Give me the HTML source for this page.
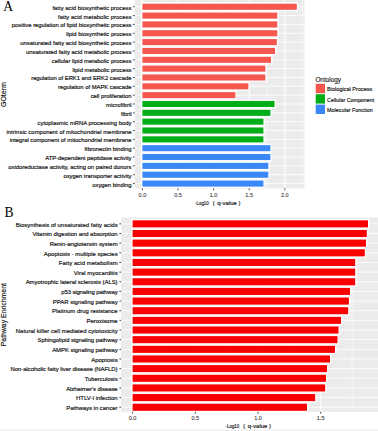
<!DOCTYPE html>
<html><head><meta charset="utf-8"><style>
html,body{margin:0;padding:0;background:#fff;}
svg{display:block;font-family:"Liberation Sans",sans-serif;}
</style></head><body>
<svg width="378" height="431" viewBox="0 0 378 431">
<rect x="134.7" y="0.0" width="169.90" height="188.40" fill="#EBEBEB"/>
<line x1="160.20" x2="160.20" y1="0.0" y2="188.4" stroke="#fff" stroke-width="0.5"/>
<line x1="195.80" x2="195.80" y1="0.0" y2="188.4" stroke="#fff" stroke-width="0.5"/>
<line x1="231.40" x2="231.40" y1="0.0" y2="188.4" stroke="#fff" stroke-width="0.5"/>
<line x1="267.00" x2="267.00" y1="0.0" y2="188.4" stroke="#fff" stroke-width="0.5"/>
<line x1="302.60" x2="302.60" y1="0.0" y2="188.4" stroke="#fff" stroke-width="0.5"/>
<line x1="142.40" x2="142.40" y1="0.0" y2="188.4" stroke="#fff" stroke-width="1"/>
<line x1="178.00" x2="178.00" y1="0.0" y2="188.4" stroke="#fff" stroke-width="1"/>
<line x1="213.60" x2="213.60" y1="0.0" y2="188.4" stroke="#fff" stroke-width="1"/>
<line x1="249.20" x2="249.20" y1="0.0" y2="188.4" stroke="#fff" stroke-width="1"/>
<line x1="284.80" x2="284.80" y1="0.0" y2="188.4" stroke="#fff" stroke-width="1"/>
<line x1="134.7" x2="304.6" y1="6.75" y2="6.75" stroke="#fff" stroke-width="0.8"/>
<line x1="134.7" x2="304.6" y1="15.59" y2="15.59" stroke="#fff" stroke-width="0.8"/>
<line x1="134.7" x2="304.6" y1="24.43" y2="24.43" stroke="#fff" stroke-width="0.8"/>
<line x1="134.7" x2="304.6" y1="33.27" y2="33.27" stroke="#fff" stroke-width="0.8"/>
<line x1="134.7" x2="304.6" y1="42.11" y2="42.11" stroke="#fff" stroke-width="0.8"/>
<line x1="134.7" x2="304.6" y1="50.95" y2="50.95" stroke="#fff" stroke-width="0.8"/>
<line x1="134.7" x2="304.6" y1="59.79" y2="59.79" stroke="#fff" stroke-width="0.8"/>
<line x1="134.7" x2="304.6" y1="68.63" y2="68.63" stroke="#fff" stroke-width="0.8"/>
<line x1="134.7" x2="304.6" y1="77.47" y2="77.47" stroke="#fff" stroke-width="0.8"/>
<line x1="134.7" x2="304.6" y1="86.31" y2="86.31" stroke="#fff" stroke-width="0.8"/>
<line x1="134.7" x2="304.6" y1="95.15" y2="95.15" stroke="#fff" stroke-width="0.8"/>
<line x1="134.7" x2="304.6" y1="103.99" y2="103.99" stroke="#fff" stroke-width="0.8"/>
<line x1="134.7" x2="304.6" y1="112.83" y2="112.83" stroke="#fff" stroke-width="0.8"/>
<line x1="134.7" x2="304.6" y1="121.67" y2="121.67" stroke="#fff" stroke-width="0.8"/>
<line x1="134.7" x2="304.6" y1="130.51" y2="130.51" stroke="#fff" stroke-width="0.8"/>
<line x1="134.7" x2="304.6" y1="139.35" y2="139.35" stroke="#fff" stroke-width="0.8"/>
<line x1="134.7" x2="304.6" y1="148.19" y2="148.19" stroke="#fff" stroke-width="0.8"/>
<line x1="134.7" x2="304.6" y1="157.03" y2="157.03" stroke="#fff" stroke-width="0.8"/>
<line x1="134.7" x2="304.6" y1="165.87" y2="165.87" stroke="#fff" stroke-width="0.8"/>
<line x1="134.7" x2="304.6" y1="174.71" y2="174.71" stroke="#fff" stroke-width="0.8"/>
<line x1="134.7" x2="304.6" y1="183.55" y2="183.55" stroke="#fff" stroke-width="0.8"/>
<rect x="141.70" y="3.00" width="155.80" height="7.50" fill="#F5574F" stroke="#fff" stroke-width="1.4"/>
<rect x="141.70" y="11.84" width="136.30" height="7.50" fill="#F5574F" stroke="#fff" stroke-width="1.4"/>
<rect x="141.70" y="20.68" width="136.30" height="7.50" fill="#F5574F" stroke="#fff" stroke-width="1.4"/>
<rect x="141.70" y="29.52" width="136.30" height="7.50" fill="#F5574F" stroke="#fff" stroke-width="1.4"/>
<rect x="141.70" y="38.36" width="135.80" height="7.50" fill="#F5574F" stroke="#fff" stroke-width="1.4"/>
<rect x="141.70" y="47.20" width="134.00" height="7.50" fill="#F5574F" stroke="#fff" stroke-width="1.4"/>
<rect x="141.70" y="56.04" width="130.00" height="7.50" fill="#F5574F" stroke="#fff" stroke-width="1.4"/>
<rect x="141.70" y="64.88" width="124.30" height="7.50" fill="#F5574F" stroke="#fff" stroke-width="1.4"/>
<rect x="141.70" y="73.72" width="124.30" height="7.50" fill="#F5574F" stroke="#fff" stroke-width="1.4"/>
<rect x="141.70" y="82.56" width="107.40" height="7.50" fill="#F5574F" stroke="#fff" stroke-width="1.4"/>
<rect x="141.70" y="91.40" width="94.40" height="7.50" fill="#F5574F" stroke="#fff" stroke-width="1.4"/>
<rect x="141.70" y="100.24" width="133.60" height="7.50" fill="#02AE18" stroke="#fff" stroke-width="1.4"/>
<rect x="141.70" y="109.08" width="129.40" height="7.50" fill="#02AE18" stroke="#fff" stroke-width="1.4"/>
<rect x="141.70" y="117.92" width="122.40" height="7.50" fill="#02AE18" stroke="#fff" stroke-width="1.4"/>
<rect x="141.70" y="126.76" width="122.40" height="7.50" fill="#02AE18" stroke="#fff" stroke-width="1.4"/>
<rect x="141.70" y="135.60" width="122.40" height="7.50" fill="#02AE18" stroke="#fff" stroke-width="1.4"/>
<rect x="141.70" y="144.44" width="129.40" height="7.50" fill="#3A88F8" stroke="#fff" stroke-width="1.4"/>
<rect x="141.70" y="153.28" width="129.40" height="7.50" fill="#3A88F8" stroke="#fff" stroke-width="1.4"/>
<rect x="141.70" y="162.12" width="127.30" height="7.50" fill="#3A88F8" stroke="#fff" stroke-width="1.4"/>
<rect x="141.70" y="170.96" width="127.30" height="7.50" fill="#3A88F8" stroke="#fff" stroke-width="1.4"/>
<rect x="141.70" y="179.80" width="122.40" height="7.50" fill="#3A88F8" stroke="#fff" stroke-width="1.4"/>
<line x1="133.00" x2="134.70" y1="6.75" y2="6.75" stroke="#333" stroke-width="0.9"/>
<text transform="translate(131.5,9.75) scale(1,1.0)" font-size="5.9" text-anchor="end" fill="#111" stroke="#111" stroke-width="0.17" textLength="79.12" lengthAdjust="spacing">fatty acid biosynthetic process</text>
<line x1="133.00" x2="134.70" y1="15.59" y2="15.59" stroke="#333" stroke-width="0.9"/>
<text transform="translate(131.5,18.59) scale(1,1.0)" font-size="5.9" text-anchor="end" fill="#111" stroke="#111" stroke-width="0.17" textLength="73.47" lengthAdjust="spacing">fatty acid metabolic process</text>
<line x1="133.00" x2="134.70" y1="24.43" y2="24.43" stroke="#333" stroke-width="0.9"/>
<text transform="translate(131.5,27.43) scale(1,1.0)" font-size="5.9" text-anchor="end" fill="#111" stroke="#111" stroke-width="0.17" textLength="119.71" lengthAdjust="spacing">positive regulation of lipid biosynthetic process</text>
<line x1="133.00" x2="134.70" y1="33.27" y2="33.27" stroke="#333" stroke-width="0.9"/>
<text transform="translate(131.5,36.27) scale(1,1.0)" font-size="5.9" text-anchor="end" fill="#111" stroke="#111" stroke-width="0.17" textLength="65.31" lengthAdjust="spacing">lipid biosynthetic process</text>
<line x1="133.00" x2="134.70" y1="42.11" y2="42.11" stroke="#333" stroke-width="0.9"/>
<text transform="translate(131.5,45.11) scale(1,1.0)" font-size="5.9" text-anchor="end" fill="#111" stroke="#111" stroke-width="0.17" textLength="111.21" lengthAdjust="spacing">unsaturated fatty acid biosynthetic process</text>
<line x1="133.00" x2="134.70" y1="50.95" y2="50.95" stroke="#333" stroke-width="0.9"/>
<text transform="translate(131.5,53.95) scale(1,1.0)" font-size="5.9" text-anchor="end" fill="#111" stroke="#111" stroke-width="0.17" textLength="105.58" lengthAdjust="spacing">unsaturated fatty acid metabolic process</text>
<line x1="133.00" x2="134.70" y1="59.79" y2="59.79" stroke="#333" stroke-width="0.9"/>
<text transform="translate(131.5,62.79) scale(1,1.0)" font-size="5.9" text-anchor="end" fill="#111" stroke="#111" stroke-width="0.17" textLength="79.82" lengthAdjust="spacing">cellular lipid metabolic process</text>
<line x1="133.00" x2="134.70" y1="68.63" y2="68.63" stroke="#333" stroke-width="0.9"/>
<text transform="translate(131.5,71.63) scale(1,1.0)" font-size="5.9" text-anchor="end" fill="#111" stroke="#111" stroke-width="0.17" textLength="58.95" lengthAdjust="spacing">lipid metabolic process</text>
<line x1="133.00" x2="134.70" y1="77.47" y2="77.47" stroke="#333" stroke-width="0.9"/>
<text transform="translate(131.5,80.47) scale(1,1.0)" font-size="5.9" text-anchor="end" fill="#111" stroke="#111" stroke-width="0.17" textLength="100.31" lengthAdjust="spacing">regulation of ERK1 and ERK2 cascade</text>
<line x1="133.00" x2="134.70" y1="86.31" y2="86.31" stroke="#333" stroke-width="0.9"/>
<text transform="translate(131.5,89.31) scale(1,1.0)" font-size="5.9" text-anchor="end" fill="#111" stroke="#111" stroke-width="0.17" textLength="73.41" lengthAdjust="spacing">regulation of MAPK cascade</text>
<line x1="133.00" x2="134.70" y1="95.15" y2="95.15" stroke="#333" stroke-width="0.9"/>
<text transform="translate(131.5,98.15) scale(1,1.0)" font-size="5.9" text-anchor="end" fill="#111" stroke="#111" stroke-width="0.17" textLength="40.87" lengthAdjust="spacing">cell proliferation</text>
<line x1="133.00" x2="134.70" y1="103.99" y2="103.99" stroke="#333" stroke-width="0.9"/>
<text transform="translate(131.5,106.99) scale(1,1.0)" font-size="5.9" text-anchor="end" fill="#111" stroke="#111" stroke-width="0.17" textLength="25.41" lengthAdjust="spacing">microfibril</text>
<line x1="133.00" x2="134.70" y1="112.83" y2="112.83" stroke="#333" stroke-width="0.9"/>
<text transform="translate(131.5,115.83) scale(1,1.0)" font-size="5.9" text-anchor="end" fill="#111" stroke="#111" stroke-width="0.17" textLength="10.58" lengthAdjust="spacing">fibril</text>
<line x1="133.00" x2="134.70" y1="121.67" y2="121.67" stroke="#333" stroke-width="0.9"/>
<text transform="translate(131.5,124.67) scale(1,1.0)" font-size="5.9" text-anchor="end" fill="#111" stroke="#111" stroke-width="0.17" textLength="94.02" lengthAdjust="spacing">cytoplasmic mRNA processing body</text>
<line x1="133.00" x2="134.70" y1="130.51" y2="130.51" stroke="#333" stroke-width="0.9"/>
<text transform="translate(131.5,133.51) scale(1,1.0)" font-size="5.9" text-anchor="end" fill="#111" stroke="#111" stroke-width="0.17" textLength="125.05" lengthAdjust="spacing">intrinsic component of mitochondrial membrane</text>
<line x1="133.00" x2="134.70" y1="139.35" y2="139.35" stroke="#333" stroke-width="0.9"/>
<text transform="translate(131.5,142.35) scale(1,1.0)" font-size="5.9" text-anchor="end" fill="#111" stroke="#111" stroke-width="0.17" textLength="121.88" lengthAdjust="spacing">integral component of mitochondrial membrane</text>
<line x1="133.00" x2="134.70" y1="148.19" y2="148.19" stroke="#333" stroke-width="0.9"/>
<text transform="translate(131.5,151.19) scale(1,1.0)" font-size="5.9" text-anchor="end" fill="#111" stroke="#111" stroke-width="0.17" textLength="46.99" lengthAdjust="spacing">fibronectin binding</text>
<line x1="133.00" x2="134.70" y1="157.03" y2="157.03" stroke="#333" stroke-width="0.9"/>
<text transform="translate(131.5,160.03) scale(1,1.0)" font-size="5.9" text-anchor="end" fill="#111" stroke="#111" stroke-width="0.17" textLength="86.34" lengthAdjust="spacing">ATP-dependent peptidase activity</text>
<line x1="133.00" x2="134.70" y1="165.87" y2="165.87" stroke="#333" stroke-width="0.9"/>
<text transform="translate(131.5,168.87) scale(1,1.0)" font-size="5.9" text-anchor="end" fill="#111" stroke="#111" stroke-width="0.17" textLength="123.18" lengthAdjust="spacing">oxidoreductase activity, acting on paired donors</text>
<line x1="133.00" x2="134.70" y1="174.71" y2="174.71" stroke="#333" stroke-width="0.9"/>
<text transform="translate(131.5,177.71) scale(1,1.0)" font-size="5.9" text-anchor="end" fill="#111" stroke="#111" stroke-width="0.17" textLength="68.10" lengthAdjust="spacing">oxygen transporter activity</text>
<line x1="133.00" x2="134.70" y1="183.55" y2="183.55" stroke="#333" stroke-width="0.9"/>
<text transform="translate(131.5,186.55) scale(1,1.0)" font-size="5.9" text-anchor="end" fill="#111" stroke="#111" stroke-width="0.17" textLength="39.25" lengthAdjust="spacing">oxygen binding</text>
<line x1="142.40" x2="142.40" y1="188.4" y2="190.20" stroke="#333" stroke-width="0.9"/>
<text x="142.40" y="194.90" font-size="5.5" text-anchor="middle" dominant-baseline="central" fill="#444" stroke="#444" stroke-width="0.12">0.0</text>
<line x1="178.00" x2="178.00" y1="188.4" y2="190.20" stroke="#333" stroke-width="0.9"/>
<text x="178.00" y="194.90" font-size="5.5" text-anchor="middle" dominant-baseline="central" fill="#444" stroke="#444" stroke-width="0.12">0.5</text>
<line x1="213.60" x2="213.60" y1="188.4" y2="190.20" stroke="#333" stroke-width="0.9"/>
<text x="213.60" y="194.90" font-size="5.5" text-anchor="middle" dominant-baseline="central" fill="#444" stroke="#444" stroke-width="0.12">1.0</text>
<line x1="249.20" x2="249.20" y1="188.4" y2="190.20" stroke="#333" stroke-width="0.9"/>
<text x="249.20" y="194.90" font-size="5.5" text-anchor="middle" dominant-baseline="central" fill="#444" stroke="#444" stroke-width="0.12">1.5</text>
<line x1="284.80" x2="284.80" y1="188.4" y2="190.20" stroke="#333" stroke-width="0.9"/>
<text x="284.80" y="194.90" font-size="5.5" text-anchor="middle" dominant-baseline="central" fill="#444" stroke="#444" stroke-width="0.12">2.0</text>
<rect x="121.1" y="217.4" width="258.90" height="194.40" fill="#EBEBEB"/>
<line x1="163.95" x2="163.95" y1="217.4" y2="411.8" stroke="#fff" stroke-width="0.5"/>
<line x1="226.65" x2="226.65" y1="217.4" y2="411.8" stroke="#fff" stroke-width="0.5"/>
<line x1="289.35" x2="289.35" y1="217.4" y2="411.8" stroke="#fff" stroke-width="0.5"/>
<line x1="352.05" x2="352.05" y1="217.4" y2="411.8" stroke="#fff" stroke-width="0.5"/>
<line x1="132.60" x2="132.60" y1="217.4" y2="411.8" stroke="#fff" stroke-width="1"/>
<line x1="195.30" x2="195.30" y1="217.4" y2="411.8" stroke="#fff" stroke-width="1"/>
<line x1="258.00" x2="258.00" y1="217.4" y2="411.8" stroke="#fff" stroke-width="1"/>
<line x1="320.70" x2="320.70" y1="217.4" y2="411.8" stroke="#fff" stroke-width="1"/>
<line x1="121.1" x2="380" y1="223.85" y2="223.85" stroke="#fff" stroke-width="0.8"/>
<line x1="121.1" x2="380" y1="233.50" y2="233.50" stroke="#fff" stroke-width="0.8"/>
<line x1="121.1" x2="380" y1="243.15" y2="243.15" stroke="#fff" stroke-width="0.8"/>
<line x1="121.1" x2="380" y1="252.81" y2="252.81" stroke="#fff" stroke-width="0.8"/>
<line x1="121.1" x2="380" y1="262.46" y2="262.46" stroke="#fff" stroke-width="0.8"/>
<line x1="121.1" x2="380" y1="272.11" y2="272.11" stroke="#fff" stroke-width="0.8"/>
<line x1="121.1" x2="380" y1="281.76" y2="281.76" stroke="#fff" stroke-width="0.8"/>
<line x1="121.1" x2="380" y1="291.41" y2="291.41" stroke="#fff" stroke-width="0.8"/>
<line x1="121.1" x2="380" y1="301.07" y2="301.07" stroke="#fff" stroke-width="0.8"/>
<line x1="121.1" x2="380" y1="310.72" y2="310.72" stroke="#fff" stroke-width="0.8"/>
<line x1="121.1" x2="380" y1="320.37" y2="320.37" stroke="#fff" stroke-width="0.8"/>
<line x1="121.1" x2="380" y1="330.02" y2="330.02" stroke="#fff" stroke-width="0.8"/>
<line x1="121.1" x2="380" y1="339.67" y2="339.67" stroke="#fff" stroke-width="0.8"/>
<line x1="121.1" x2="380" y1="349.33" y2="349.33" stroke="#fff" stroke-width="0.8"/>
<line x1="121.1" x2="380" y1="358.98" y2="358.98" stroke="#fff" stroke-width="0.8"/>
<line x1="121.1" x2="380" y1="368.63" y2="368.63" stroke="#fff" stroke-width="0.8"/>
<line x1="121.1" x2="380" y1="378.28" y2="378.28" stroke="#fff" stroke-width="0.8"/>
<line x1="121.1" x2="380" y1="387.93" y2="387.93" stroke="#fff" stroke-width="0.8"/>
<line x1="121.1" x2="380" y1="397.59" y2="397.59" stroke="#fff" stroke-width="0.8"/>
<line x1="121.1" x2="380" y1="407.24" y2="407.24" stroke="#fff" stroke-width="0.8"/>
<rect x="131.95" y="219.65" width="236.70" height="8.40" fill="#FA0000" stroke="#fff" stroke-width="1.3"/>
<rect x="131.95" y="229.30" width="235.50" height="8.40" fill="#FA0000" stroke="#fff" stroke-width="1.3"/>
<rect x="131.95" y="238.95" width="234.70" height="8.40" fill="#FA0000" stroke="#fff" stroke-width="1.3"/>
<rect x="131.95" y="248.61" width="233.50" height="8.40" fill="#FA0000" stroke="#fff" stroke-width="1.3"/>
<rect x="131.95" y="258.26" width="223.90" height="8.40" fill="#FA0000" stroke="#fff" stroke-width="1.3"/>
<rect x="131.95" y="267.91" width="223.90" height="8.40" fill="#FA0000" stroke="#fff" stroke-width="1.3"/>
<rect x="131.95" y="277.56" width="223.90" height="8.40" fill="#FA0000" stroke="#fff" stroke-width="1.3"/>
<rect x="131.95" y="287.21" width="218.70" height="8.40" fill="#FA0000" stroke="#fff" stroke-width="1.3"/>
<rect x="131.95" y="296.87" width="217.60" height="8.40" fill="#FA0000" stroke="#fff" stroke-width="1.3"/>
<rect x="131.95" y="306.52" width="216.90" height="8.40" fill="#FA0000" stroke="#fff" stroke-width="1.3"/>
<rect x="131.95" y="316.17" width="209.70" height="8.40" fill="#FA0000" stroke="#fff" stroke-width="1.3"/>
<rect x="131.95" y="325.82" width="207.20" height="8.40" fill="#FA0000" stroke="#fff" stroke-width="1.3"/>
<rect x="131.95" y="335.47" width="206.20" height="8.40" fill="#FA0000" stroke="#fff" stroke-width="1.3"/>
<rect x="131.95" y="345.13" width="203.70" height="8.40" fill="#FA0000" stroke="#fff" stroke-width="1.3"/>
<rect x="131.95" y="354.78" width="198.70" height="8.40" fill="#FA0000" stroke="#fff" stroke-width="1.3"/>
<rect x="131.95" y="364.43" width="195.70" height="8.40" fill="#FA0000" stroke="#fff" stroke-width="1.3"/>
<rect x="131.95" y="374.08" width="194.70" height="8.40" fill="#FA0000" stroke="#fff" stroke-width="1.3"/>
<rect x="131.95" y="383.73" width="193.90" height="8.40" fill="#FA0000" stroke="#fff" stroke-width="1.3"/>
<rect x="131.95" y="393.39" width="183.90" height="8.40" fill="#FA0000" stroke="#fff" stroke-width="1.3"/>
<rect x="131.95" y="403.04" width="175.70" height="8.40" fill="#FA0000" stroke="#fff" stroke-width="1.3"/>
<line x1="119.40" x2="121.10" y1="223.85" y2="223.85" stroke="#333" stroke-width="0.9"/>
<text transform="translate(117.6,226.55) scale(1,1.0)" font-size="5.95" text-anchor="end" fill="#111" stroke="#111" stroke-width="0.17" textLength="101.89" lengthAdjust="spacing">Biosynthesis of unsaturated fatty acids</text>
<line x1="119.40" x2="121.10" y1="233.50" y2="233.50" stroke="#333" stroke-width="0.9"/>
<text transform="translate(117.6,236.20) scale(1,1.0)" font-size="5.95" text-anchor="end" fill="#111" stroke="#111" stroke-width="0.17" textLength="85.23" lengthAdjust="spacing">Vitamin digestion and absorption</text>
<line x1="119.40" x2="121.10" y1="243.15" y2="243.15" stroke="#333" stroke-width="0.9"/>
<text transform="translate(117.6,245.85) scale(1,1.0)" font-size="5.95" text-anchor="end" fill="#111" stroke="#111" stroke-width="0.17" textLength="67.83" lengthAdjust="spacing">Renin-angiotensin system</text>
<line x1="119.40" x2="121.10" y1="252.81" y2="252.81" stroke="#333" stroke-width="0.9"/>
<text transform="translate(117.6,255.51) scale(1,1.0)" font-size="5.95" text-anchor="end" fill="#111" stroke="#111" stroke-width="0.17" textLength="73.77" lengthAdjust="spacing">Apoptosis - multiple species</text>
<line x1="119.40" x2="121.10" y1="262.46" y2="262.46" stroke="#333" stroke-width="0.9"/>
<text transform="translate(117.6,265.16) scale(1,1.0)" font-size="5.95" text-anchor="end" fill="#111" stroke="#111" stroke-width="0.17" textLength="58.87" lengthAdjust="spacing">Fatty acid metabolism</text>
<line x1="119.40" x2="121.10" y1="272.11" y2="272.11" stroke="#333" stroke-width="0.9"/>
<text transform="translate(117.6,274.81) scale(1,1.0)" font-size="5.95" text-anchor="end" fill="#111" stroke="#111" stroke-width="0.17" textLength="43.91" lengthAdjust="spacing">Viral myocarditis</text>
<line x1="119.40" x2="121.10" y1="281.76" y2="281.76" stroke="#333" stroke-width="0.9"/>
<text transform="translate(117.6,284.46) scale(1,1.0)" font-size="5.95" text-anchor="end" fill="#111" stroke="#111" stroke-width="0.17" textLength="91.97" lengthAdjust="spacing">Amyotrophic lateral sclerosis (ALS)</text>
<line x1="119.40" x2="121.10" y1="291.41" y2="291.41" stroke="#333" stroke-width="0.9"/>
<text transform="translate(117.6,294.11) scale(1,1.0)" font-size="5.95" text-anchor="end" fill="#111" stroke="#111" stroke-width="0.17" textLength="56.27" lengthAdjust="spacing">p53 signaling pathway</text>
<line x1="119.40" x2="121.10" y1="301.07" y2="301.07" stroke="#333" stroke-width="0.9"/>
<text transform="translate(117.6,303.77) scale(1,1.0)" font-size="5.95" text-anchor="end" fill="#111" stroke="#111" stroke-width="0.17" textLength="64.76" lengthAdjust="spacing">PPAR signaling pathway</text>
<line x1="119.40" x2="121.10" y1="310.72" y2="310.72" stroke="#333" stroke-width="0.9"/>
<text transform="translate(117.6,313.42) scale(1,1.0)" font-size="5.95" text-anchor="end" fill="#111" stroke="#111" stroke-width="0.17" textLength="65.54" lengthAdjust="spacing">Platinum drug resistance</text>
<line x1="119.40" x2="121.10" y1="320.37" y2="320.37" stroke="#333" stroke-width="0.9"/>
<text transform="translate(117.6,323.07) scale(1,1.0)" font-size="5.95" text-anchor="end" fill="#111" stroke="#111" stroke-width="0.17" textLength="31.07" lengthAdjust="spacing">Peroxisome</text>
<line x1="119.40" x2="121.10" y1="330.02" y2="330.02" stroke="#333" stroke-width="0.9"/>
<text transform="translate(117.6,332.72) scale(1,1.0)" font-size="5.95" text-anchor="end" fill="#111" stroke="#111" stroke-width="0.17" textLength="101.88" lengthAdjust="spacing">Natural killer cell mediated cytotoxicity</text>
<line x1="119.40" x2="121.10" y1="339.67" y2="339.67" stroke="#333" stroke-width="0.9"/>
<text transform="translate(117.6,342.37) scale(1,1.0)" font-size="5.95" text-anchor="end" fill="#111" stroke="#111" stroke-width="0.17" textLength="80.04" lengthAdjust="spacing">Sphingolipid signaling pathway</text>
<line x1="119.40" x2="121.10" y1="349.33" y2="349.33" stroke="#333" stroke-width="0.9"/>
<text transform="translate(117.6,352.03) scale(1,1.0)" font-size="5.95" text-anchor="end" fill="#111" stroke="#111" stroke-width="0.17" textLength="65.47" lengthAdjust="spacing">AMPK signaling pathway</text>
<line x1="119.40" x2="121.10" y1="358.98" y2="358.98" stroke="#333" stroke-width="0.9"/>
<text transform="translate(117.6,361.68) scale(1,1.0)" font-size="5.95" text-anchor="end" fill="#111" stroke="#111" stroke-width="0.17" textLength="26.46" lengthAdjust="spacing">Apoptosis</text>
<line x1="119.40" x2="121.10" y1="368.63" y2="368.63" stroke="#333" stroke-width="0.9"/>
<text transform="translate(117.6,371.33) scale(1,1.0)" font-size="5.95" text-anchor="end" fill="#111" stroke="#111" stroke-width="0.17" textLength="107.20" lengthAdjust="spacing">Non-alcoholic fatty liver disease (NAFLD)</text>
<line x1="119.40" x2="121.10" y1="378.28" y2="378.28" stroke="#333" stroke-width="0.9"/>
<text transform="translate(117.6,380.98) scale(1,1.0)" font-size="5.95" text-anchor="end" fill="#111" stroke="#111" stroke-width="0.17" textLength="32.88" lengthAdjust="spacing">Tuberculosis</text>
<line x1="119.40" x2="121.10" y1="387.93" y2="387.93" stroke="#333" stroke-width="0.9"/>
<text transform="translate(117.6,390.63) scale(1,1.0)" font-size="5.95" text-anchor="end" fill="#111" stroke="#111" stroke-width="0.17" textLength="51.47" lengthAdjust="spacing">Alzheimer's disease</text>
<line x1="119.40" x2="121.10" y1="397.59" y2="397.59" stroke="#333" stroke-width="0.9"/>
<text transform="translate(117.6,400.29) scale(1,1.0)" font-size="5.95" text-anchor="end" fill="#111" stroke="#111" stroke-width="0.17" textLength="41.53" lengthAdjust="spacing">HTLV-I infection</text>
<line x1="119.40" x2="121.10" y1="407.24" y2="407.24" stroke="#333" stroke-width="0.9"/>
<text transform="translate(117.6,409.94) scale(1,1.0)" font-size="5.95" text-anchor="end" fill="#111" stroke="#111" stroke-width="0.17" textLength="51.32" lengthAdjust="spacing">Pathways in cancer</text>
<line x1="132.60" x2="132.60" y1="411.8" y2="413.60" stroke="#333" stroke-width="0.9"/>
<text x="132.60" y="418.30" font-size="5.5" text-anchor="middle" dominant-baseline="central" fill="#444" stroke="#444" stroke-width="0.12">0.0</text>
<line x1="195.30" x2="195.30" y1="411.8" y2="413.60" stroke="#333" stroke-width="0.9"/>
<text x="195.30" y="418.30" font-size="5.5" text-anchor="middle" dominant-baseline="central" fill="#444" stroke="#444" stroke-width="0.12">0.5</text>
<line x1="258.00" x2="258.00" y1="411.8" y2="413.60" stroke="#333" stroke-width="0.9"/>
<text x="258.00" y="418.30" font-size="5.5" text-anchor="middle" dominant-baseline="central" fill="#444" stroke="#444" stroke-width="0.12">1.0</text>
<line x1="320.70" x2="320.70" y1="411.8" y2="413.60" stroke="#333" stroke-width="0.9"/>
<text x="320.70" y="418.30" font-size="5.5" text-anchor="middle" dominant-baseline="central" fill="#444" stroke="#444" stroke-width="0.12">1.5</text>
<text y="205.0" font-size="5.7" fill="#111" stroke="#111" stroke-width="0.15"><tspan x="195.10" textLength="13.6" lengthAdjust="spacingAndGlyphs">-Log10</tspan><tspan x="212.70">(</tspan><tspan x="217.30" textLength="19.6" lengthAdjust="spacingAndGlyphs">q-value</tspan><tspan x="238.50">)</tspan></text>
<text y="428.3" font-size="5.7" fill="#111" stroke="#111" stroke-width="0.15"><tspan x="225.60" textLength="13.6" lengthAdjust="spacingAndGlyphs">-Log10</tspan><tspan x="243.20">(</tspan><tspan x="247.80" textLength="19.6" lengthAdjust="spacingAndGlyphs">q-value</tspan><tspan x="269.00">)</tspan></text>
<text transform="translate(3.5,94.6) rotate(-90)" font-size="7" text-anchor="middle" dominant-baseline="central" fill="#111" stroke="#111" stroke-width="0.15">GOterm</text>
<text transform="translate(3.6,314.7) rotate(-90)" font-size="6.9" text-anchor="middle" dominant-baseline="central" fill="#111" stroke="#111" stroke-width="0.15">Pathway Enrichment</text>
<text x="3.3" y="10.6" font-family="Liberation Serif" font-size="13.6" fill="#000">A</text>
<text x="4.4" y="216.8" font-family="Liberation Serif" font-size="13.6" fill="#000" transform="translate(0,216.8) scale(1,1.09) translate(0,-216.8)">B</text>
<text x="315.4" y="79.2" font-size="6.4" dominant-baseline="central" fill="#111" stroke="#111" stroke-width="0.12">Ontology</text>
<rect x="315.7" y="83.80" width="9.3" height="9.4" fill="#F5574F"/>
<text x="327.1" y="89.30" font-size="5.4" dominant-baseline="central" fill="#111" stroke="#111" stroke-width="0.15" textLength="45.3" lengthAdjust="spacingAndGlyphs">Biological Process</text>
<rect x="315.7" y="94.20" width="9.3" height="9.4" fill="#02AE18"/>
<text x="327.1" y="99.70" font-size="5.4" dominant-baseline="central" fill="#111" stroke="#111" stroke-width="0.15" textLength="47.1" lengthAdjust="spacingAndGlyphs">Cellular Component</text>
<rect x="315.7" y="104.60" width="9.3" height="9.4" fill="#3A88F8"/>
<text x="327.1" y="110.10" font-size="5.4" dominant-baseline="central" fill="#111" stroke="#111" stroke-width="0.15" textLength="45.6" lengthAdjust="spacingAndGlyphs">Molecular Function</text>
<rect x="0" y="429.6" width="378" height="1.4" fill="#EFEFEF"/>
</svg>
</body></html>
